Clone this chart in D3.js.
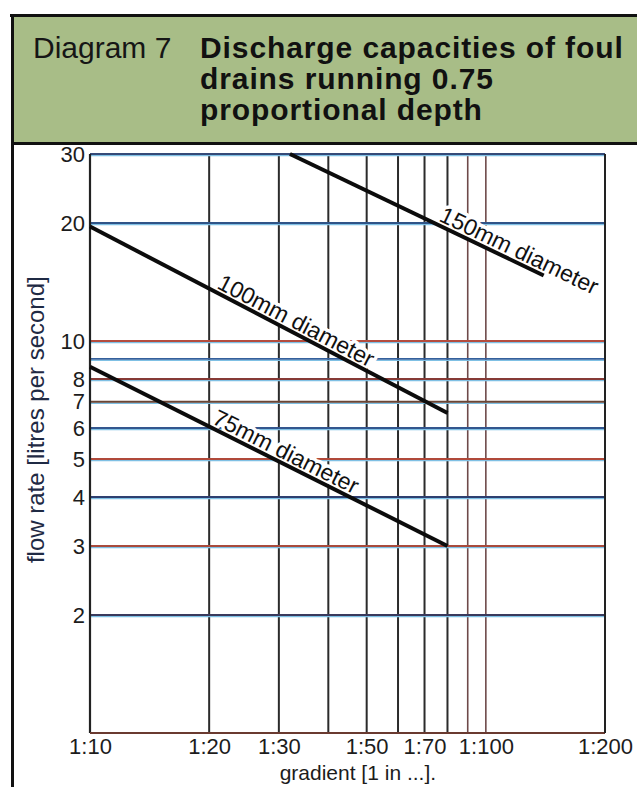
<!DOCTYPE html>
<html>
<head>
<meta charset="utf-8">
<script src="https://cdn.jsdelivr.net/npm/d3@7"></script>
<style>
body { margin: 0; background: #fff; }
svg { display: block; font-family: "Liberation Sans", Arial, sans-serif; }
</style>
</head>
<body>
<script>
// values
var gradientGrid = [10, 20, 30, 40, 50, 60, 70, 80, 90, 100, 200];
var gradientTicks = [10, 20, 30, 50, 70, 100, 200];
var flowGrid = [2, 3, 4, 5, 6, 7, 8, 9, 10, 20, 30];
var flowTicks = [2, 3, 4, 5, 6, 7, 8, 10, 20, 30];

var pipeNames = ["75mm diameter", "100mm diameter", "150mm diameter"];
var pipe75 = [[10, 8.6], [80, 3.0]];
var pipe100 = [[10, 19.6], [80, 6.55]];
var pipe150 = [[32, 30], [140, 14.7]];
var labelAt = [20, 20.6, 75];   // gradient where each label begins

var titleLead = "Diagram 7";
var titleLines = ["Discharge capacities of foul", "drains running 0.75", "proportional depth"];

// print colours of the horizontal rules (misregistered ink)
var flowGridColors = ["#3a3a5c", "#a84a3c", "#2e3f70", "#b0493a", "#33568e", "#6b4534",
    "#863a36", "#35609c", "#b44c3e", "#2f5488", "#354a78"];

var W = 637, H = 787;
var margin = { top: 154, right: 32, bottom: 54, left: 90 };
var w = W - margin.left - margin.right,
    h = H - margin.top - margin.bottom;

var svg = d3.select("body").append("svg")
    .attr("width", W)
    .attr("height", H);

// header band
svg.append("rect")
    .attr("x", 12).attr("y", 15)
    .attr("width", W - 12).attr("height", 128)
    .attr("fill", "#a8bd87");
svg.append("line")
    .attr("x1", 10).attr("x2", W).attr("y1", 15.5).attr("y2", 15.5)
    .attr("stroke", "#111").attr("stroke-width", 3);
svg.append("line")
    .attr("x1", 12).attr("x2", W).attr("y1", 143.5).attr("y2", 143.5)
    .attr("stroke", "#111").attr("stroke-width", 3);
svg.append("line")
    .attr("x1", 12.5).attr("x2", 12.5).attr("y1", 14).attr("y2", H)
    .attr("stroke", "#111").attr("stroke-width", 3);

svg.append("text")
    .attr("x", 33).attr("y", 58)
    .attr("font-size", 30)
    .attr("fill", "#161616")
    .text(titleLead);

svg.selectAll(".title-line")
    .data(titleLines)
    .enter()
    .append("text")
    .attr("class", "title-line")
    .attr("x", 200)
    .attr("y", function (d, i) { return 58 + i * 31; })
    .attr("font-size", 30)
    .attr("letter-spacing", 0.9)
    .attr("font-weight", "bold")
    .attr("fill", "#111")
    .text(function (d) { return d; });

var g = svg.append("g")
    .attr("transform", "translate(" + margin.left + "," + margin.top + ")");

var xScale = d3.scaleLog().domain([10, 200]).range([0, w]);
var yScale = d3.scaleLog().domain([1, 30]).range([h, 0]);

// grid
g.selectAll(".vgrid")
    .data(gradientGrid)
    .enter()
    .append("line")
    .attr("class", "vgrid")
    .attr("x1", function (d) { return xScale(d); })
    .attr("x2", function (d) { return xScale(d); })
    .attr("y1", 0).attr("y2", h)
    .attr("stroke", function (d) { return (d == 90 || d == 100) ? "#6e4a4a" : "#2b2b2b"; })
    .attr("stroke-width", function (d) { return (d == 90 || d == 100) ? 1.6 : 2; });

g.selectAll(".hgrid-under")
    .data(flowGrid)
    .enter()
    .append("line")
    .attr("class", "hgrid-under")
    .attr("x1", 0).attr("x2", w)
    .attr("y1", function (d) { return yScale(d) + 1.5; })
    .attr("y2", function (d) { return yScale(d) + 1.5; })
    .attr("stroke", "#7fc0e4")
    .attr("stroke-width", 1.3);

g.selectAll(".hgrid")
    .data(flowGrid)
    .enter()
    .append("line")
    .attr("class", "hgrid")
    .attr("x1", 0).attr("x2", w)
    .attr("y1", function (d) { return yScale(d); })
    .attr("y2", function (d) { return yScale(d); })
    .attr("stroke", function (d, i) { return flowGridColors[i]; })
    .attr("stroke-width", 1.8);

// frame: left, bottom, right
g.append("line").attr("x1", 0).attr("x2", 0).attr("y1", 0).attr("y2", h)
    .attr("stroke", "#222").attr("stroke-width", 2.2);
g.append("line").attr("x1", 0).attr("x2", w).attr("y1", h).attr("y2", h)
    .attr("stroke", "#6a3a30").attr("stroke-width", 2.2);
g.append("line").attr("x1", w).attr("x2", w).attr("y1", 0).attr("y2", h)
    .attr("stroke", "#222").attr("stroke-width", 2);

// axes
var xAxis = d3.axisBottom(xScale)
    .tickValues(gradientTicks)
    .tickSize(0)
    .tickPadding(5)
    .tickFormat(function (d) { return "1:" + d; });
var yAxis = d3.axisLeft(yScale)
    .tickValues(flowTicks)
    .tickSize(0)
    .tickPadding(5)
    .tickFormat(d3.format("d"));

var xAxis_g = g.append("g")
    .attr("transform", "translate(0," + h + ")")
    .call(xAxis);
var yAxis_g = g.append("g").call(yAxis);

[xAxis_g, yAxis_g].forEach(function (a) {
    a.select(".domain").remove();
    a.selectAll("text")
        .attr("font-size", 22)
        .attr("font-family", "Liberation Sans, Arial, sans-serif")
        .attr("fill", "#1c1c1c");
});

g.append("text")
    .attr("x", xScale(47.5))
    .attr("y", h + 47)
    .attr("text-anchor", "middle")
    .attr("font-size", 21)
    .attr("fill", "#1c1c1c")
    .text("gradient [1 in ...].");

g.append("text")
    .attr("transform", "translate(-46," + (yScale(6.3)) + ") rotate(-90)")
    .attr("text-anchor", "middle")
    .attr("font-size", 24)
    .attr("fill", "#1f2a44")
    .text("flow rate [litres per second]");

// pipe lines and labels
var pipes = [pipe75, pipe100, pipe150];

var line = d3.line()
    .x(function (d) { return xScale(d[0]); })
    .y(function (d) { return yScale(d[1]); });

g.selectAll(".pipe-label")
    .data(pipes)
    .enter()
    .append("text")
    .attr("class", "pipe-label")
    .attr("transform", function (d, i) {
        var x0 = xScale(d[0][0]), y0 = yScale(d[0][1]),
            x1 = xScale(d[1][0]), y1 = yScale(d[1][1]);
        var px = xScale(labelAt[i]);
        var py = y0 + (px - x0) * (y1 - y0) / (x1 - x0);
        var ang = Math.atan2(y1 - y0, x1 - x0) * 180 / Math.PI;
        return "translate(" + px + "," + py + ") rotate(" + ang + ")";
    })
    .attr("dy", -4)
    .attr("font-size", 23)
    .attr("fill", "#111")
    .attr("stroke", "#fff")
    .attr("stroke-width", 7)
    .attr("stroke-linejoin", "round")
    .attr("paint-order", "stroke")
    .text(function (d, i) { return pipeNames[i]; });

g.selectAll(".pipe")
    .data(pipes)
    .enter()
    .append("path")
    .attr("class", "pipe")
    .attr("d", line)
    .attr("fill", "none")
    .attr("stroke", "#0c0c0c")
    .attr("stroke-width", 4);
</script>
</body>
</html>
